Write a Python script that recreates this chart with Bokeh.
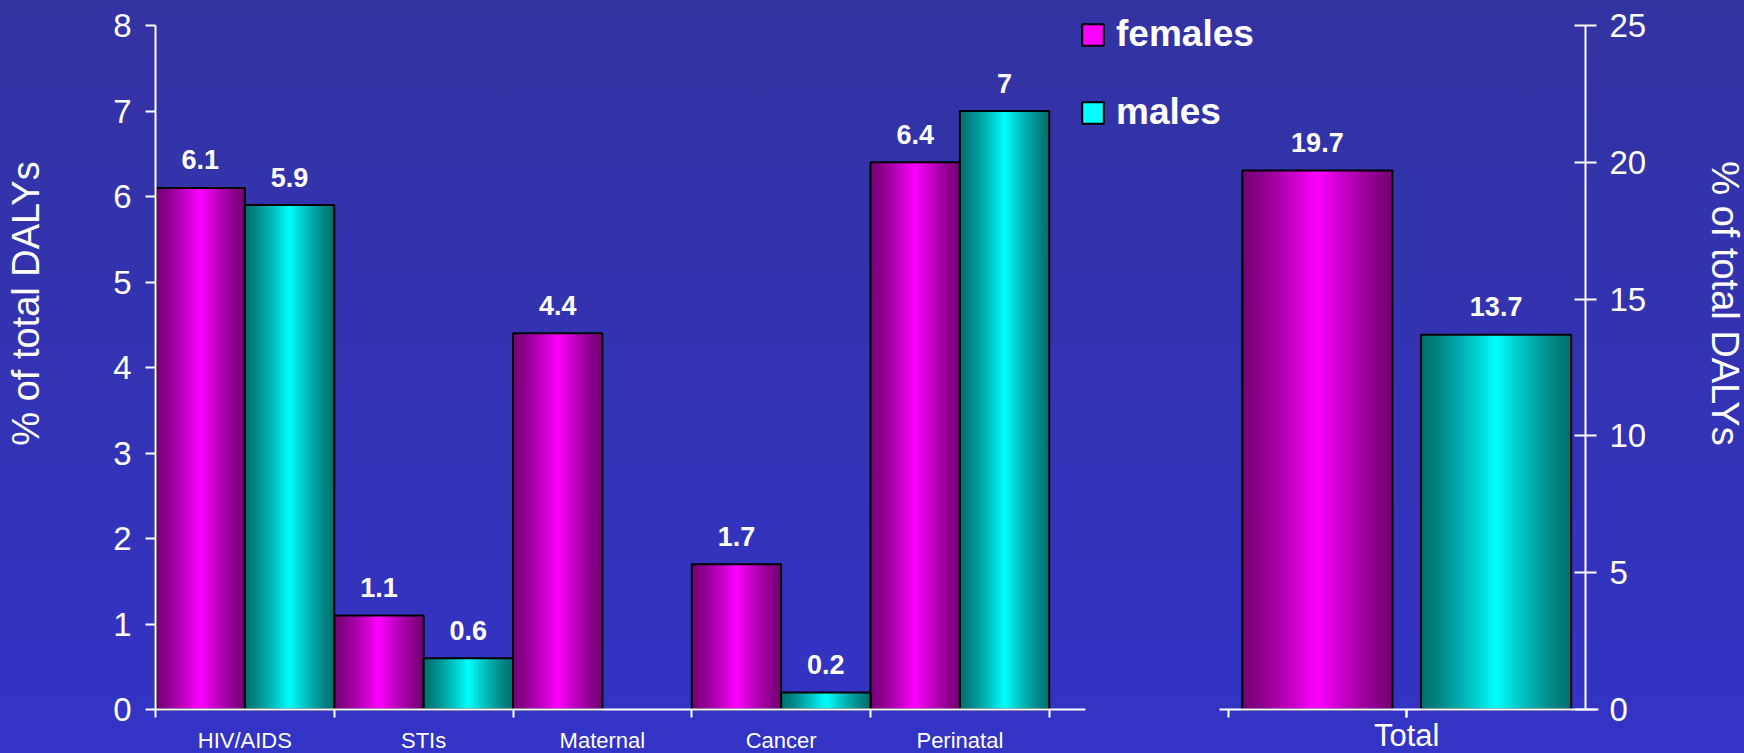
import numpy as np
from bokeh.plotting import figure
from bokeh.models import (Range1d, LinearAxis, FixedTicker, Legend, LegendItem,
                          Label, ColumnDataSource)
from bokeh.core.properties import value
from bokeh.embed import file_html
from bokeh.resources import INLINE

# ---------------- data ----------------
categories = ["HIV/AIDS", "STIs", "Maternal", "Cancer", "Perinatal"]
females = [6.1, 1.1, 4.4, 1.7, 6.4]
males = [5.9, 0.6, 0.0, 0.2, 7.0]
total_label = "Total"
total_females = [19.7]
total_males = [13.7]
left_ticks = [0, 1, 2, 3, 4, 5, 6, 7, 8]
right_ticks = [0, 5, 10, 15, 20, 25]
series_names = ["females", "males"]
axis_title = "% of total DALYs"

# ---------------- layout / style ----------------
FONT = "Liberation Sans"
W, H = 1744, 753
PX_LEFT, PX_RIGHT = 155, 1585     # screen x of the left and right value axes
PX_TOP, PX_BASE = 25, 709         # screen y of the top ticks and of the zero line
F_DARK, F_BRIGHT = (118, 0, 118), (255, 0, 255)
M_DARK, M_BRIGHT = (0, 112, 112), (0, 255, 255)
WHITE = "#ffffff"

n = len(categories)
idx = np.arange(n)
x_end = n + 3          # left group 0..n, empty slot, total group n+1..n+3
tot_gap = 0.08

# the frame covers the whole canvas; axes are drawn at fixed locations
ux = (PX_RIGHT - PX_LEFT) / x_end
uy = (PX_BASE - PX_TOP) / (left_ticks[-1] - left_ticks[0])
uyr = (PX_BASE - PX_TOP) / (right_ticks[-1] - right_ticks[0])
x_range = Range1d(-PX_LEFT / ux, (W - PX_LEFT) / ux)
y_range = Range1d(left_ticks[0] - (H - PX_BASE) / uy, left_ticks[-1] + PX_TOP / uy)
yr_range = Range1d(right_ticks[0] - (H - PX_BASE) / uyr, right_ticks[-1] + PX_TOP / uyr)

p = figure(width=W, height=H, output_backend="svg", toolbar_location=None,
           x_range=x_range, y_range=y_range, x_axis_type=None, y_axis_type=None,
           min_border=0, min_border_left=0, min_border_right=0,
           min_border_top=0, min_border_bottom=0)
p.extra_y_ranges = {"right": yr_range}
p.xgrid.visible = False
p.ygrid.visible = False
p.outline_line_color = None
p.background_fill_color = None
p.border_fill_color = None
p.styles = {"background": "linear-gradient(to bottom, #3333a2, #3333c6)"}


def strips(lefts, rights, tops, dark, bright, nstrip=36):
    L, R, T, C = [], [], [], []
    for l, r, t in zip(lefts, rights, tops):
        if t <= 0:
            continue
        w = (r - l) / nstrip
        for k in range(nstrip):
            c = (k + 0.5) / nstrip
            s = (1 - abs(2 * c - 1)) ** 1.3
            rgb = tuple(int(round(d + (b - d) * s)) for d, b in zip(dark, bright))
            L.append(l + k * w)
            R.append(min(r, l + (k + 1.6) * w))
            T.append(t)
            C.append("#%02x%02x%02x" % rgb)
    return ColumnDataSource(dict(left=L, right=R, top=T, bottom=[0] * len(L), color=C))


def outline_src(lefts, rights, tops):
    keep = [i for i, t in enumerate(tops) if t > 0]
    return ColumnDataSource(dict(left=[lefts[i] for i in keep],
                                 right=[rights[i] for i in keep],
                                 top=[tops[i] for i in keep],
                                 bottom=[0] * len(keep)))


# left group bars
f_l, f_r = list(idx + 0.0), list(idx + 0.5)
m_l, m_r = list(idx + 0.5), list(idx + 1.0)
for (ls, rs, vals, dark, bright) in [(f_l, f_r, females, F_DARK, F_BRIGHT),
                                     (m_l, m_r, males, M_DARK, M_BRIGHT)]:
    p.quad(left="left", right="right", top="top", bottom="bottom", fill_color="color",
           line_color=None, source=strips(ls, rs, vals, dark, bright))
    p.quad(left="left", right="right", top="top", bottom="bottom", fill_color=None,
           line_color="black", line_width=2, source=outline_src(ls, rs, vals))

# total group bars (right axis)
tf_l, tf_r = [n + 1 + tot_gap], [n + 2 - tot_gap]
tm_l, tm_r = [n + 2 + tot_gap], [n + 3 - tot_gap]
for (ls, rs, vals, dark, bright) in [(tf_l, tf_r, total_females, F_DARK, F_BRIGHT),
                                     (tm_l, tm_r, total_males, M_DARK, M_BRIGHT)]:
    p.quad(left="left", right="right", top="top", bottom="bottom", fill_color="color",
           line_color=None, source=strips(ls, rs, vals, dark, bright), y_range_name="right")
    p.quad(left="left", right="right", top="top", bottom="bottom", fill_color=None,
           line_color="black", line_width=2, source=outline_src(ls, rs, vals),
           y_range_name="right")


# value labels
def fmt(v):
    return "{:g}".format(v)


lx, ly, lt = [], [], []
for i in range(n):
    for v, c in [(females[i], i + 0.25), (males[i], i + 0.75)]:
        if v > 0:
            lx.append(c); ly.append(v); lt.append(fmt(v))
p.text(x=lx, y=ly, text=lt, text_color=WHITE, text_font=value(FONT),
       text_font_style="bold", text_font_size="27px", text_align="center",
       text_baseline="alphabetic", y_offset=-28)
p.text(x=[n + 1.5, n + 2.5], y=total_females + total_males,
       text=[fmt(total_females[0]), fmt(total_males[0])], text_color=WHITE,
       text_font=value(FONT), text_font_style="bold", text_font_size="27px",
       text_align="center", text_baseline="alphabetic", y_offset=-28,
       y_range_name="right")


def style_axis(ax, size):
    ax.axis_line_color = WHITE
    ax.axis_line_width = 2
    ax.major_tick_line_color = WHITE
    ax.major_tick_line_width = 2
    ax.minor_tick_line_color = WHITE
    ax.minor_tick_line_width = 2
    ax.major_label_text_color = WHITE
    ax.major_label_text_font = FONT
    ax.major_label_text_font_size = size


# left y axis
yl = LinearAxis(ticker=FixedTicker(ticks=left_ticks), fixed_location=0,
                bounds=(left_ticks[0], left_ticks[-1]),
                major_tick_out=10, major_tick_in=0,
                minor_tick_out=0, minor_tick_in=0, major_label_standoff=14)
style_axis(yl, "33px")
p.add_layout(yl, "left")

# right y axis
yr = LinearAxis(y_range_name="right", ticker=FixedTicker(ticks=right_ticks),
                fixed_location=x_end, bounds=(right_ticks[0], right_ticks[-1]),
                major_tick_out=11, major_tick_in=11, minor_tick_out=0, minor_tick_in=0,
                major_label_standoff=13)
style_axis(yr, "33px")
p.add_layout(yr, "right")

# bottom axis for categories (ticks at boundaries, labels at centres)
xb = LinearAxis(ticker=FixedTicker(ticks=list(idx + 0.5), minor_ticks=list(range(n + 1))),
                fixed_location=0, bounds=(0, n + 0.2), major_tick_out=0, major_tick_in=0,
                minor_tick_out=8, minor_tick_in=0, major_label_standoff=10,
                major_label_overrides={float(i + 0.5): c for i, c in enumerate(categories)})
style_axis(xb, "22px")
p.add_layout(xb, "below")

# bottom axis segment for the total group
xt = LinearAxis(ticker=FixedTicker(ticks=[n + 2.0], minor_ticks=[n + 1.0, n + 2.0]),
                bounds=(n + 0.95, x_end + 0.07), fixed_location=0,
                major_tick_out=8, major_tick_in=0, minor_tick_out=8, minor_tick_in=0,
                major_label_standoff=0, major_label_overrides={float(n + 2): total_label})
style_axis(xt, "31px")
p.add_layout(xt, "below")

# axis titles
for xs, ang in [(25, np.pi / 2), (1724, -np.pi / 2)]:
    p.add_layout(Label(x=xs, y=H - 303, x_units="screen", y_units="screen", text=axis_title,
                       angle=ang, text_align="center", text_baseline="alphabetic",
                       text_color=WHITE, text_font=FONT, text_font_size="38px"))

# legend
nan = [float("nan")]
lf = p.quad(left=nan, right=nan, top=nan, bottom=nan, fill_color="#ff00ff",
            line_color="black", line_width=2)
lm = p.quad(left=nan, right=nan, top=nan, bottom=nan, fill_color="#00ffff",
            line_color="black", line_width=2)
leg = Legend(items=[LegendItem(label=series_names[0], renderers=[lf]),
                    LegendItem(label=series_names[1], renderers=[lm])],
             location=(1079, H - 133), padding=0, margin=0, spacing=36,
             glyph_width=27, glyph_height=27, label_standoff=10,
             label_text_font=FONT, label_text_font_style="bold",
             label_text_font_size="37px", label_text_color=WHITE,
             border_line_color=None, background_fill_alpha=0)
p.add_layout(leg, "center")

open("out.html", "w").write(file_html(p, INLINE))
